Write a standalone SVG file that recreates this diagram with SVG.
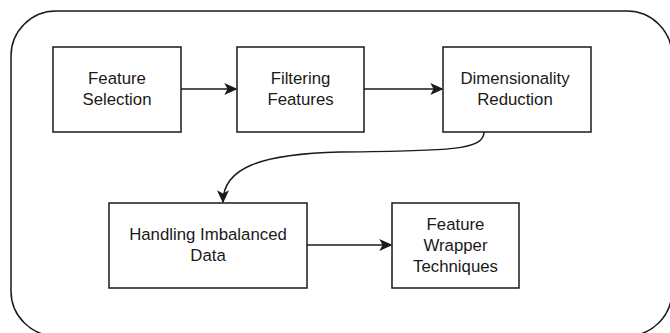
<svg xmlns="http://www.w3.org/2000/svg" width="670" height="333" viewBox="0 0 670 333">
  <defs>
    <marker id="arrow" viewBox="0 0 10 10" refX="9" refY="5" markerWidth="13" markerHeight="12" markerUnits="userSpaceOnUse" orient="auto" preserveAspectRatio="none">
      <path d="M0,0 L10,5 L0,10 L2.5,5 Z" fill="#1a1a1a"/>
    </marker>
    <style>
      .frame { fill: #ffffff; stroke: #1a1a1a; stroke-width: 1.5; }
      .box { fill: #ffffff; stroke: #1a1a1a; stroke-width: 1.5; }
      .label { font-family: "Liberation Sans", Arial, sans-serif; font-size: 16.8px; fill: #1a1a1a; text-anchor: middle; }
      .edge { fill: none; stroke: #1a1a1a; stroke-width: 1.5; marker-end: url(#arrow); }
    </style>
  </defs>
  <rect width="670" height="333" fill="#ffffff"/>
  <!-- outer container -->
  <rect class="frame" x="11" y="11" width="661" height="325" rx="45" ry="45"/>

  <g id="feature-selection">
    <rect class="box" x="53" y="47" width="128" height="85"/>
    <text class="label" x="117" y="84">Feature</text>
    <text class="label" x="117" y="105">Selection</text>
  </g>
  <g id="filtering-features">
    <rect class="box" x="237" y="47" width="127" height="85"/>
    <text class="label" x="300.5" y="84">Filtering</text>
    <text class="label" x="300.5" y="105">Features</text>
  </g>
  <g id="dimensionality-reduction">
    <rect class="box" x="443" y="47" width="148" height="85"/>
    <text class="label" x="515" y="84">Dimensionality</text>
    <text class="label" x="515" y="105">Reduction</text>
  </g>
  <g id="handling-imbalanced-data">
    <rect class="box" x="109" y="203" width="198" height="85"/>
    <text class="label" x="208" y="240">Handling Imbalanced</text>
    <text class="label" x="208" y="261">Data</text>
  </g>
  <g id="feature-wrapper-techniques">
    <rect class="box" x="392" y="203" width="127" height="85"/>
    <text class="label" x="455.5" y="230">Feature</text>
    <text class="label" x="455.5" y="251">Wrapper</text>
    <text class="label" x="455.5" y="272">Techniques</text>
  </g>

  <g id="connectors">
    <path class="edge" d="M181,89 L236,89"/>
    <path class="edge" d="M364,89 L442,89"/>
    <path class="edge" d="M484,132 C484,150 450,151 340,152 C260,154 223,168 223,202"/>
    <path class="edge" d="M307,245 L391,245"/>
  </g>
</svg>
